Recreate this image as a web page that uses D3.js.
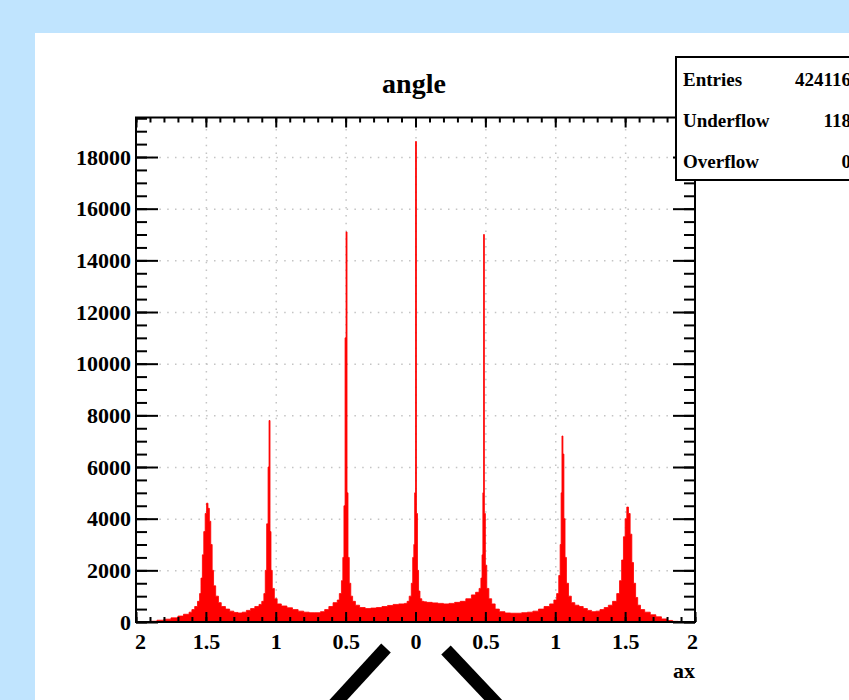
<!DOCTYPE html>
<html>
<head>
<meta charset="utf-8">
<script src="https://cdn.jsdelivr.net/npm/d3@7"></script>
<style>
body { margin: 0; background: #c0e4fe; }
svg { display: block; }
text { font-family: "Liberation Serif", "Times New Roman", serif; font-weight: bold; }
</style>
</head>
<body>
<script>
// histogram "angle": variable width bins (left edge, count)
var binLeft = [
  -2.00, -1.95, -1.90, -1.85, -1.80, -1.75, -1.70, -1.66, -1.62, -1.60,
  -1.58, -1.56, -1.545, -1.535, -1.525, -1.515, -1.505, -1.495, -1.485, -1.475,
  -1.465, -1.455, -1.445, -1.43, -1.41, -1.39, -1.36, -1.33, -1.30, -1.27,
  -1.24, -1.21, -1.18, -1.15, -1.12, -1.10, -1.085, -1.075, -1.065, -1.055,
  -1.048, -1.041, -1.034, -1.025, -1.01, -0.99, -0.96, -0.92, -0.88, -0.84,
  -0.80, -0.76, -0.72, -0.68, -0.65, -0.62, -0.59, -0.56, -0.545, -0.53,
  -0.52, -0.512, -0.504, -0.497, -0.490, -0.483, -0.474, -0.463, -0.45, -0.43,
  -0.40, -0.36, -0.32, -0.28, -0.24, -0.20, -0.16, -0.12, -0.08, -0.06,
  -0.045, -0.03, -0.02, -0.012, -0.006, 0.000, 0.007, 0.014, 0.022, 0.032,
  0.045, 0.06, 0.08, 0.12, 0.16, 0.20, 0.24, 0.28, 0.32, 0.36,
  0.40, 0.43, 0.455, 0.468, 0.476, 0.482, 0.487, 0.493, 0.50, 0.51,
  0.525, 0.545, 0.57, 0.60, 0.64, 0.68, 0.72, 0.76, 0.80, 0.84,
  0.88, 0.92, 0.96, 0.99, 1.01, 1.025, 1.035, 1.042, 1.048, 1.055,
  1.062, 1.07, 1.08, 1.095, 1.115, 1.14, 1.17, 1.20, 1.23, 1.26,
  1.29, 1.32, 1.35, 1.38, 1.41, 1.44, 1.46, 1.475, 1.488, 1.50,
  1.512, 1.524, 1.536, 1.548, 1.56, 1.575, 1.59, 1.61, 1.64, 1.68,
  1.72, 1.76, 1.80, 1.84, 1.88, 1.92
];
var binCount = [
  0, 10, 30, 70, 110, 160, 230, 300, 380, 480,
  600, 800, 1100, 1700, 2600, 3500, 4200, 4600, 4400, 3900,
  3000, 2000, 1400, 1000, 750, 600, 500, 420, 370, 350,
  380, 450, 520, 600, 680, 800, 1100, 2000, 3800, 6000,
  7800, 3500, 2000, 1300, 900, 700, 620, 550, 480, 420,
  380, 360, 360, 400, 480, 600, 750, 850, 1100, 1600,
  2500, 4500, 11000, 15100, 5000, 2500, 1500, 1000, 800, 650,
  560, 520, 540, 560, 600, 640, 680, 700, 720, 800,
  1000, 1500, 2500, 3000, 5000, 18600, 4200, 2000, 1200, 900,
  800, 780, 760, 740, 720, 700, 720, 760, 800, 900,
  1050, 1150, 1300, 1700, 2600, 5000, 15000, 4200, 2200, 1300,
  900, 700, 500, 400, 350, 340, 340, 360, 380, 420,
  500, 600, 700, 850, 1100, 1800, 3000, 5000, 7200, 6500,
  4000, 2500, 1500, 1000, 750, 650, 600, 520, 450, 400,
  420, 480, 560, 650, 800, 1100, 1600, 2400, 3300, 4000,
  4450, 4200, 3400, 2300, 1500, 950, 650, 480, 380, 280,
  200, 120, 60, 25, 5, 0
];
var xMajor = [-2, -1.5, -1, -0.5, 0, 0.5, 1, 1.5, 2];
var yMajor = [0, 2000, 4000, 6000, 8000, 10000, 12000, 14000, 16000, 18000];
var statsLabels = ["Entries", "Underflow", "Overflow"];
var statsValues = ["424116", "118", "0"];

var W = 849, H = 700;
var frameL = 136, frameR = 695, frameT = 117.5, frameB = 622;

var x = d3.scaleLinear().domain([-2, 2]).range([frameL, frameR]);
var y = d3.scaleLinear().domain([0, 19530]).range([frameB, frameT]);

var svg = d3.select("body").append("svg")
    .attr("width", W)
    .attr("height", H);

// pad background
svg.append("rect").attr("width", W).attr("height", H).attr("fill", "#c0e4fe");
svg.append("rect").attr("x", 35).attr("y", 33).attr("width", W - 35).attr("height", H - 33).attr("fill", "#ffffff");

// grid
var minorX = d3.range(-20, 21).map(function (i) { return i / 10; });
var minorY = d3.range(0, 19501, 500);

svg.append("g")
    .attr("transform", "translate(0," + frameB + ")")
    .call(d3.axisBottom(x).tickValues(xMajor.slice(1, -1)).tickSize(-(frameB - frameT)).tickFormat(""))
    .call(function (g) { g.select(".domain").remove(); })
    .selectAll("line")
    .attr("stroke", "#c4c4c4").attr("stroke-width", 1.5).attr("stroke-dasharray", "1.5,6.3");

svg.append("g")
    .attr("transform", "translate(" + frameL + ",0)")
    .call(d3.axisLeft(y).tickValues(yMajor.slice(1)).tickSize(-(frameR - frameL)).tickFormat(""))
    .call(function (g) { g.select(".domain").remove(); })
    .selectAll("line")
    .attr("stroke", "#c4c4c4").attr("stroke-width", 1.5).attr("stroke-dasharray", "1.5,6.3");

// histogram
var steps = binLeft.map(function (d, i) { return [d, binCount[i]]; });
steps.push([2, 0]);
var area = d3.area()
    .curve(d3.curveStepAfter)
    .x(function (d) { return x(d[0]); })
    .y0(y(0))
    .y1(function (d) { return y(d[1]); });
svg.append("path")
    .datum(steps)
    .attr("fill", "#ff0000")
    .attr("stroke", "#ff0000")
    .attr("stroke-width", 0.8)
    .attr("d", area);

// axes, ticks pointing inside the frame
function styleAxis(g) {
    g.select(".domain").remove();
    g.selectAll("line").attr("stroke", "#000").attr("stroke-width", 2);
    g.selectAll("text").attr("fill", "#000").style("font-size", "22px")
        .style("font-family", "'Liberation Serif', serif").style("font-weight", "bold");
}

svg.append("g")
    .attr("transform", "translate(0," + frameB + ")")
    .call(d3.axisBottom(x).tickValues(minorX).tickSize(-5).tickFormat(""))
    .call(styleAxis);
svg.append("g")
    .attr("transform", "translate(0," + frameB + ")")
    .call(d3.axisBottom(x).tickValues(xMajor).tickSize(-10).tickPadding(11)
        .tickFormat(function (d) { return String(Math.abs(d)); }))
    .call(styleAxis)
    .selectAll("text")
    .attr("dx", function (d) { return d === -2 ? 4 : (d === 2 ? -3 : 0); });

svg.append("g")
    .attr("transform", "translate(0," + frameT + ")")
    .call(d3.axisTop(x).tickValues(minorX).tickSize(-5).tickFormat(""))
    .call(styleAxis);
svg.append("g")
    .attr("transform", "translate(0," + frameT + ")")
    .call(d3.axisTop(x).tickValues(xMajor).tickSize(-10).tickFormat(""))
    .call(styleAxis);

svg.append("g")
    .attr("transform", "translate(" + frameL + ",0)")
    .call(d3.axisLeft(y).tickValues(minorY).tickSize(-11).tickFormat(""))
    .call(styleAxis);
svg.append("g")
    .attr("transform", "translate(" + frameL + ",0)")
    .call(d3.axisLeft(y).tickValues(yMajor).tickSize(-22).tickPadding(5).tickFormat(d3.format("d")))
    .call(styleAxis);

svg.append("g")
    .attr("transform", "translate(" + frameR + ",0)")
    .call(d3.axisRight(y).tickValues(minorY).tickSize(-11).tickFormat(""))
    .call(styleAxis);
svg.append("g")
    .attr("transform", "translate(" + frameR + ",0)")
    .call(d3.axisRight(y).tickValues(yMajor).tickSize(-22).tickFormat(""))
    .call(styleAxis);

// frame
svg.append("rect")
    .attr("x", frameL).attr("y", frameT)
    .attr("width", frameR - frameL).attr("height", frameB - frameT)
    .attr("fill", "none").attr("stroke", "#000").attr("stroke-width", 2);

// title and axis label
svg.append("text")
    .attr("x", 414).attr("y", 93)
    .attr("text-anchor", "middle")
    .style("font-size", "28px")
    .text("angle");

svg.append("text")
    .attr("x", frameR).attr("y", 678)
    .attr("text-anchor", "end")
    .style("font-size", "22px")
    .text("ax");

// stats box
svg.append("rect")
    .attr("x", 676).attr("y", 57)
    .attr("width", 200).attr("height", 123)
    .attr("fill", "#fff").attr("stroke", "#000").attr("stroke-width", 2);

statsLabels.forEach(function (s, i) {
    svg.append("text")
        .attr("x", 683).attr("y", 86 + i * 41)
        .style("font-size", "19px")
        .text(s);
    svg.append("text")
        .attr("x", 851).attr("y", 86 + i * 41)
        .attr("text-anchor", "end")
        .style("font-size", "19px")
        .text(statsValues[i]);
});

// thick black strokes below the plot
svg.append("line")
    .attr("x1", 386).attr("y1", 648).attr("x2", 318).attr("y2", 722)
    .attr("stroke", "#000").attr("stroke-width", 13);
svg.append("line")
    .attr("x1", 446).attr("y1", 650).attr("x2", 514).attr("y2", 722)
    .attr("stroke", "#000").attr("stroke-width", 13);
</script>
</body>
</html>
